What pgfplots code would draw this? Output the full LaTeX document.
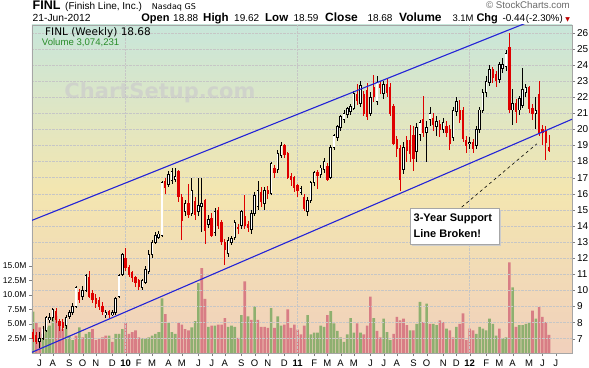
\documentclass[border=0pt]{standalone}
\usepackage{fontspec}
\setmainfont{Liberation Sans}
\newfontfamily\dejavu{DejaVu Sans}
\usepackage{pgfplots}
\pgfplotsset{compat=1.18}
\usepackage{pgfplotstable}

\definecolor{candlered}{RGB}{222,0,0}
\definecolor{chanblue}{RGB}{35,35,215}
\definecolor{volgreen}{RGB}{132,172,104}
\definecolor{volred}{RGB}{214,116,128}
\definecolor{bgtop}{RGB}{200,230,218}
\definecolor{bgmid}{RGB}{243,230,176}
\definecolor{bgbot}{RGB}{241,208,188}
\definecolor{hdrgray}{RGB}{105,105,105}
\definecolor{volgtext}{RGB}{40,140,40}

\pgfplotstableread{
i O H L C u
0 7.4 7.6 6.8 7.0 0
1 7.2 7.4 6.7 6.8 0
2 6.8 7.4 6.4 7.0 1
3 7.0 7.8 6.9 7.6 1
4 7.5 8.4 7.4 8.3 1
5 8.2 8.6 8.0 8.3 1
6 8.3 8.9 8.1 8.8 1
7 8.7 8.9 8.0 8.2 0
8 8.1 8.2 7.5 7.8 0
9 8.0 8.2 7.5 7.7 0
10 7.8 8.5 7.6 8.3 1
11 8.4 8.8 8.2 8.6 1
12 8.6 9.2 8.5 9.0 1
13 9.0 10.3 8.9 10.2 1
14 9.9 10.1 9.2 9.4 0
15 9.6 10.3 9.4 10.0 1
16 10.0 11.0 9.9 10.9 1
17 10.8 11.2 9.5 9.6 0
18 9.8 10.0 9.2 9.4 0
19 9.5 9.8 8.9 9.2 0
20 9.4 9.6 8.8 9.0 0
21 9.0 9.3 8.5 8.7 0
22 8.5 8.8 8.3 8.6 1
23 8.7 8.8 8.3 8.5 0
24 8.5 8.8 8.4 8.6 1
25 8.6 9.6 8.5 9.5 1
26 9.6 11.0 9.5 10.9 1
27 11.0 12.3 10.9 12.2 1
28 12.0 12.6 11.2 11.4 0
29 11.4 11.6 10.8 11.0 0
30 11.1 11.2 10.5 10.8 0
31 10.8 10.9 10.2 10.5 0
32 10.6 10.7 10.0 10.2 0
33 10.2 10.7 10.0 10.6 1
34 10.5 11.5 10.4 11.3 1
35 11.2 12.5 11.0 12.2 1
36 12.2 13.1 12.0 13.0 1
37 13.0 13.6 12.9 13.4 1
38 13.3 13.7 13.2 13.5 1
39 13.4 16.8 13.3 16.7 1
40 16.8 17.0 16.0 16.4 0
41 16.6 17.4 16.4 17.2 1
42 16.8 17.6 16.6 17.4 1
43 16.9 17.6 16.7 17.1 1
44 17.4 17.5 15.5 15.8 0
45 15.8 16.0 13.1 14.3 0
46 14.9 15.6 14.6 15.4 1
47 15.4 16.6 14.5 14.7 0
48 14.8 17.0 14.6 16.2 1
49 15.5 15.8 14.4 14.7 0
50 14.9 17.0 14.6 15.3 1
51 15.2 17.0 13.6 15.4 1
52 15.6 15.7 12.9 13.7 0
53 14.1 14.7 13.9 14.4 1
54 14.5 14.8 13.3 13.4 0
55 13.6 15.1 13.4 14.9 1
56 15.0 15.2 13.8 14.0 0
57 14.2 14.4 12.8 13.0 0
58 13.0 13.2 11.6 12.5 0
59 12.3 13.3 12.1 13.1 1
60 13.0 13.4 12.8 13.2 1
61 13.3 14.4 13.1 14.2 1
62 13.9 14.1 13.5 13.8 0
63 14.0 15.0 13.8 14.9 1
64 14.6 15.9 13.8 14.0 0
65 14.1 14.3 13.6 13.9 0
66 13.8 15.0 13.5 14.8 1
67 14.8 16.1 14.6 15.9 1
68 15.2 16.8 15.0 16.2 1
69 16.1 16.4 15.2 15.5 0
70 15.4 16.4 15.0 16.2 1
71 16.2 16.5 15.7 16.0 0
72 16.0 18.0 15.9 17.9 1
73 17.6 17.8 17.0 17.3 0
74 17.5 18.7 17.3 18.5 1
75 18.4 19.2 18.2 19.0 1
76 19.0 19.1 18.2 18.4 0
77 18.5 18.6 16.9 17.0 0
78 17.1 17.3 16.5 16.9 0
79 17.0 17.1 16.1 16.4 0
80 16.5 16.6 15.8 16.2 0
81 16.1 16.5 15.9 16.3 1
82 15.8 16.0 14.9 15.1 0
83 14.9 15.8 14.6 15.6 1
84 15.6 16.8 15.4 16.7 1
85 16.7 17.4 16.5 17.3 1
86 17.3 17.5 16.3 17.1 0
87 17.2 17.8 17.0 17.6 1
88 17.5 18.2 17.3 18.0 1
89 17.7 17.9 16.8 16.9 0
90 17.0 19.0 16.9 18.9 1
91 18.9 19.7 18.7 19.6 1
92 19.5 20.3 19.3 20.2 1
93 20.1 20.9 19.9 20.8 1
94 20.6 21.2 20.4 21.0 1
95 20.9 21.4 20.7 21.3 1
96 21.1 21.6 20.9 21.4 1
97 21.3 22.4 21.2 22.2 1
98 22.2 22.8 21.5 21.8 0
99 21.6 23.0 21.4 22.7 1
100 22.2 22.4 20.8 21.0 0
101 22.4 22.9 20.6 20.8 0
102 21.0 22.3 20.8 22.0 1
103 22.6 23.4 21.7 22.0 0
104 21.7 23.3 21.5 22.9 1
105 22.8 23.0 22.2 22.6 0
106 22.2 23.0 21.9 22.8 1
107 22.8 23.1 22.0 22.3 0
108 22.6 22.9 20.8 21.0 0
109 21.4 21.6 19.0 19.1 0
110 19.4 19.6 18.3 18.8 0
111 18.8 19.0 16.2 16.9 0
112 17.5 19.2 17.2 18.9 1
113 19.3 19.6 18.0 18.7 0
114 19.3 20.3 18.0 18.5 0
115 19.6 20.2 17.4 18.2 0
116 18.6 20.4 18.0 20.1 1
117 19.7 20.6 19.3 20.4 1
118 20.6 22.1 19.5 19.8 0
119 19.8 20.5 18.0 20.1 1
120 20.6 21.4 20.2 21.0 1
121 20.7 21.0 19.9 20.3 0
122 20.2 20.8 19.6 20.5 1
123 20.3 20.6 19.5 20.0 0
124 20.0 20.7 19.8 20.4 1
125 20.2 20.5 19.5 19.8 0
126 20.0 20.3 18.7 19.1 0
127 19.5 21.4 19.3 21.2 1
128 21.1 22.0 20.8 21.7 1
129 21.2 21.8 20.4 20.6 0
130 21.2 21.4 19.2 19.4 0
131 19.3 19.6 18.5 19.0 0
132 19.1 19.5 18.8 19.2 1
133 19.2 19.4 18.5 18.8 0
134 19.0 20.2 18.8 20.0 1
135 20.0 21.4 19.8 21.2 1
136 21.2 22.5 21.0 22.3 1
137 22.3 23.3 22.0 23.0 1
138 22.9 24.0 22.7 23.7 1
139 23.7 23.9 22.9 23.2 0
140 23.4 23.6 22.6 23.0 0
141 23.1 24.2 22.9 24.0 1
142 23.8 24.4 23.5 24.0 1
143 23.9 24.9 23.6 24.7 1
144 25.1 26.0 21.0 21.2 0
145 21.2 22.5 20.3 21.6 1
146 21.6 21.9 20.4 21.1 0
147 21.2 22.1 20.9 21.9 1
148 21.5 23.8 21.3 22.5 1
149 22.3 22.8 22.0 22.6 1
150 22.6 22.7 21.0 21.3 0
151 21.3 21.6 20.6 21.0 0
152 21.0 22.0 20.0 21.2 1
153 22.2 23.0 19.6 19.8 0
154 20.0 20.3 19.0 19.8 0
155 19.9 20.2 18.1 19.2 0
156 18.88 19.62 18.59 18.68 0
}\candles

\pgfplotstableread{
i v g
0 7.1 1
1 5.2 0
2 4.4 0
3 3.3 1
4 4.4 1
5 4.7 1
6 6.1 1
7 6.4 0
8 4.7 0
9 4.1 0
10 5.8 1
11 3.0 1
12 2.2 1
13 3.0 0
14 4.4 1
15 2.7 0
16 3.3 1
17 3.6 1
18 4.1 0
19 2.2 0
20 2.5 0
21 2.7 0
22 3.0 0
23 3.0 1
24 1.9 0
25 3.3 1
26 3.3 1
27 4.1 1
28 5.2 0
29 3.3 0
30 3.6 0
31 3.9 0
32 2.7 0
33 2.5 1
34 2.5 1
35 2.7 1
36 3.0 1
37 3.3 1
38 3.6 1
39 9.4 1
40 6.7 0
41 5.2 1
42 3.6 1
43 3.3 1
44 5.2 0
45 4.9 0
46 4.1 0
47 3.9 0
48 4.4 1
49 5.5 1
50 12.0 1
51 14.6 0
52 9.3 0
53 4.5 1
54 4.7 0
55 4.7 1
56 4.9 0
57 4.9 0
58 6.0 0
59 4.5 1
60 4.7 1
61 4.5 1
62 2.6 0
63 6.5 1
64 12.3 0
65 6.3 1
66 5.7 0
67 8.0 1
68 5.7 0
69 4.5 0
70 4.5 0
71 4.3 0
72 7.7 1
73 4.3 0
74 6.3 1
75 4.7 1
76 4.9 0
77 7.5 0
78 4.3 0
79 4.9 0
80 4.0 0
81 3.2 0
82 4.7 0
83 6.5 1
84 3.2 1
85 3.5 1
86 3.5 1
87 4.7 1
88 4.5 1
89 6.5 0
90 7.2 1
91 5.1 1
92 3.8 1
93 2.7 1
94 1.9 1
95 3.2 1
96 6.0 1
97 3.5 1
98 5.1 0
99 3.5 1
100 3.2 0
101 4.7 0
102 9.7 0
103 6.0 1
104 3.8 0
105 2.7 0
106 5.9 1
107 3.6 1
108 2.2 1
109 3.3 0
110 6.2 0
111 5.6 0
112 5.9 0
113 4.8 0
114 3.9 1
115 3.9 0
116 5.0 1
117 8.8 1
118 5.3 0
119 8.5 1
120 5.0 0
121 5.0 1
122 4.8 1
123 5.6 0
124 5.3 0
125 4.2 1
126 3.9 0
127 2.7 0
128 4.5 1
129 5.0 0
130 6.8 0
131 2.2 0
132 4.2 0
133 3.9 0
134 3.3 1
135 4.5 1
136 4.2 1
137 3.9 1
138 5.9 1
139 5.0 1
140 3.0 1
141 4.2 0
142 2.5 1
143 2.7 1
144 15.6 0
145 11.3 1
146 4.5 0
147 4.8 1
148 4.8 1
149 5.0 1
150 5.3 1
151 7.3 0
152 5.9 1
153 7.9 0
154 6.2 0
155 5.3 0
156 3.1 0
}\vol

\pgfplotsset{
  candlebar/.style n args={2}{draw=none, mark=none, forget plot,
    error bars/.cd, y dir=both, y explicit, error mark=none,
    error bar style={draw=#1, line width=#2}},
}

\begin{document}
\begin{tikzpicture}[x=1pt,y=1pt]
\useasboundingbox (0,0) rectangle (589,367);
\fill[white] (0,0) rectangle (589,367);

% ---------- volume axis (with background) ----------
\begin{axis}[at={(32pt,14pt)}, anchor=south west, scale only axis,
  width=540pt, height=328pt,
  xmin=-0.302, xmax=162.94, ymin=0, ymax=56.4,
  axis background/.style={top color=bgtop, bottom color=bgbot, middle color=bgmid},
  axis line style={draw=gray!70},
  xtick=\empty,
  ytick={2.5,5,7.5,10,12.5,15},
  yticklabels={2.5M,5.0M,7.5M,10.0M,12.5M,15.0M},
  ytick pos=left,
  tick style={draw=gray}, major tick length=3pt, tick align=outside,
  yticklabel style={font=\fontsize{8.5}{10}\selectfont, xshift=1pt},
]
\addplot[ybar, bar width=2.6pt, bar shift=0pt, draw=none, fill=volgreen, fill opacity=0.9,
  restrict expr to domain={\thisrow{g}}{0.5:1.5}] table[x=i, y=v]{\vol};
\addplot[ybar, bar width=2.6pt, bar shift=0pt, draw=none, fill=volred, fill opacity=0.9,
  restrict expr to domain={\thisrow{g}}{-0.5:0.5}] table[x=i, y=v]{\vol};
\end{axis}

% watermark
\node[anchor=center, inner sep=0pt, text=gray!40, opacity=0.7,
  font=\dejavu\bfseries\fontsize{21}{24}\selectfont] at (160,274) {ChartSetup.com};

% ---------- price axis ----------
\begin{axis}[at={(32pt,14pt)}, anchor=south west, scale only axis,
  width=540pt, height=328pt,
  xmin=-0.302, xmax=162.94, ymin=6.11, ymax=26.48,
  axis line style={draw=gray!70},
  ytick={7,8,...,26}, ytick pos=right, yticklabel pos=right,
  ymajorgrids, grid style={densely dotted, draw=gray!45},
  xtick={2,6,11,15,19,24,28,32,36,41,45,50,54,58,63,67,71,76,80,85,89,93,97,102,106,110,115,119,124,128,132,137,141,145,150,154,158},
  xticklabels={J,A,S,O,N,D,\textbf{10},F,M,A,M,J,J,A,S,O,N,D,\textbf{11},F,M,A,M,J,J,A,S,O,N,D,\textbf{12},F,M,A,M,J,J},
  xtick pos=bottom,
  extra x ticks={28,80,132}, extra x tick labels={},
  extra x tick style={grid=major, major tick length=0pt},
  tick style={draw=gray}, major tick length=3pt, tick align=outside,
  yticklabel style={font=\fontsize{10}{12}\selectfont, /pgf/number format/assume math mode=true, xshift=-1.5pt},
  xticklabel style={font=\fontsize{9.5}{11}\selectfont},
]
% wicks
\addplot[restrict expr to domain={\thisrow{u}}{0.5:1.5}, candlebar={black}{0.8pt}]
  table[x=i, y expr={(\thisrow{H}+\thisrow{L})/2}, y error expr={(\thisrow{H}-\thisrow{L})/2}]{\candles};
\addplot[restrict expr to domain={\thisrow{u}}{-0.5:0.5}, candlebar={candlered}{0.8pt}]
  table[x=i, y expr={(\thisrow{H}+\thisrow{L})/2}, y error expr={(\thisrow{H}-\thisrow{L})/2}]{\candles};
% down bodies
\addplot[restrict expr to domain={\thisrow{u}}{-0.5:0.5}, candlebar={candlered}{2.3pt}]
  table[x=i, y expr={(\thisrow{O}+\thisrow{C})/2}, y error expr={abs(\thisrow{O}-\thisrow{C})/2+0.02}]{\candles};
% up bodies: outline then hollow fill
\addplot[restrict expr to domain={\thisrow{u}}{0.5:1.5}, candlebar={black}{2.5pt}]
  table[x=i, y expr={(\thisrow{O}+\thisrow{C})/2}, y error expr={abs(\thisrow{O}-\thisrow{C})/2+0.03}]{\candles};
\addplot[restrict expr to domain={\thisrow{u}}{0.5:1.5}, candlebar={white}{1.1pt}]
  table[x=i, y expr={(\thisrow{O}+\thisrow{C})/2}, y error expr={max(abs(\thisrow{O}-\thisrow{C})/2-0.03,0)}]{\candles};
% channel lines
\addplot[chanblue, line width=1.1pt] coordinates {(-0.302,14.348) (150,26.68)};
\addplot[chanblue, line width=1.1pt] coordinates {(-0.302,6.155) (162.94,20.627)};
% dashed pointer
\addplot[black, dashed, line width=0.6pt] coordinates {(129.6,15.17) (152.3,19.1)};
\end{axis}

% annotation box
\fill[gray!40] (412.2,120.8) rectangle (500.8,156.8);
\draw[gray!70, fill=white, line width=0.5pt] (410.7,122.3) rectangle (499.3,158.3);
\node[anchor=base west, inner sep=0pt, font=\bfseries\fontsize{11}{13}\selectfont] at (413.5,145) {3-Year Support};
\node[anchor=base west, inner sep=0pt, font=\bfseries\fontsize{11}{13}\selectfont] at (413.5,129) {Line Broken!};

% header
\node[anchor=base west, inner sep=0pt, font=\bfseries\fontsize{12.5}{14}\selectfont] at (32.5,357.5) {FINL};
\node[anchor=base west, inner sep=0pt, font=\fontsize{10}{12}\selectfont] at (65,357.5) {(Finish Line, Inc.)};
\node[anchor=base west, inner sep=0pt, font=\dejavu\fontsize{8}{10}\selectfont] at (151.7,357.5) {Nasdaq GS};
\node[anchor=base east, inner sep=0pt, text=hdrgray, font=\fontsize{9.7}{11}\selectfont] at (570,358) {\textcopyright\ StockCharts.com};

\node[anchor=base west, inner sep=0pt, font=\fontsize{10.3}{12}\selectfont] at (32.5,345) {21-Jun-2012};
\begin{scope}[every node/.style={anchor=base west, inner sep=0pt}]
\node[font=\bfseries\fontsize{11}{13}\selectfont] at (141.2,345) {Open};
\node[font=\fontsize{10}{12}\selectfont] at (173,345) {18.88};
\node[font=\bfseries\fontsize{11.5}{13}\selectfont] at (203,345) {High};
\node[font=\fontsize{10}{12}\selectfont] at (234,345) {19.62};
\node[font=\bfseries\fontsize{11.5}{13}\selectfont] at (265,345) {Low};
\node[font=\fontsize{10}{12}\selectfont] at (293.3,345) {18.59};
\node[font=\bfseries\fontsize{12}{13}\selectfont] at (325,345) {Close};
\node[font=\fontsize{10}{12}\selectfont] at (367.3,345) {18.68};
\node[font=\bfseries\fontsize{12}{13}\selectfont] at (399,345) {Volume};
\node[font=\fontsize{9.5}{12}\selectfont] at (452.3,345) {3.1M};
\node[font=\bfseries\fontsize{11}{13}\selectfont] at (476.3,345) {Chg};
\node[font=\fontsize{10}{12}\selectfont] at (502.3,345) {-0.44};
\node[font=\fontsize{9.6}{12}\selectfont] at (525.7,345) {(-2.30\%)};
\node[anchor=center, font=\dejavu\fontsize{6}{7}\selectfont, text=red!75!black] at (567.8,347.5) {▼};
\end{scope}

% in-chart legend
\node[anchor=base west, inner sep=0pt, font=\dejavu\fontsize{10.5}{12}\selectfont] at (45,331.5) {FINL (Weekly) 18.68};
\node[anchor=base west, inner sep=0pt, text=volgtext, font=\fontsize{9.6}{11}\selectfont] at (41.7,321.5) {Volume 3,074,231};
\end{tikzpicture}
\end{document}
